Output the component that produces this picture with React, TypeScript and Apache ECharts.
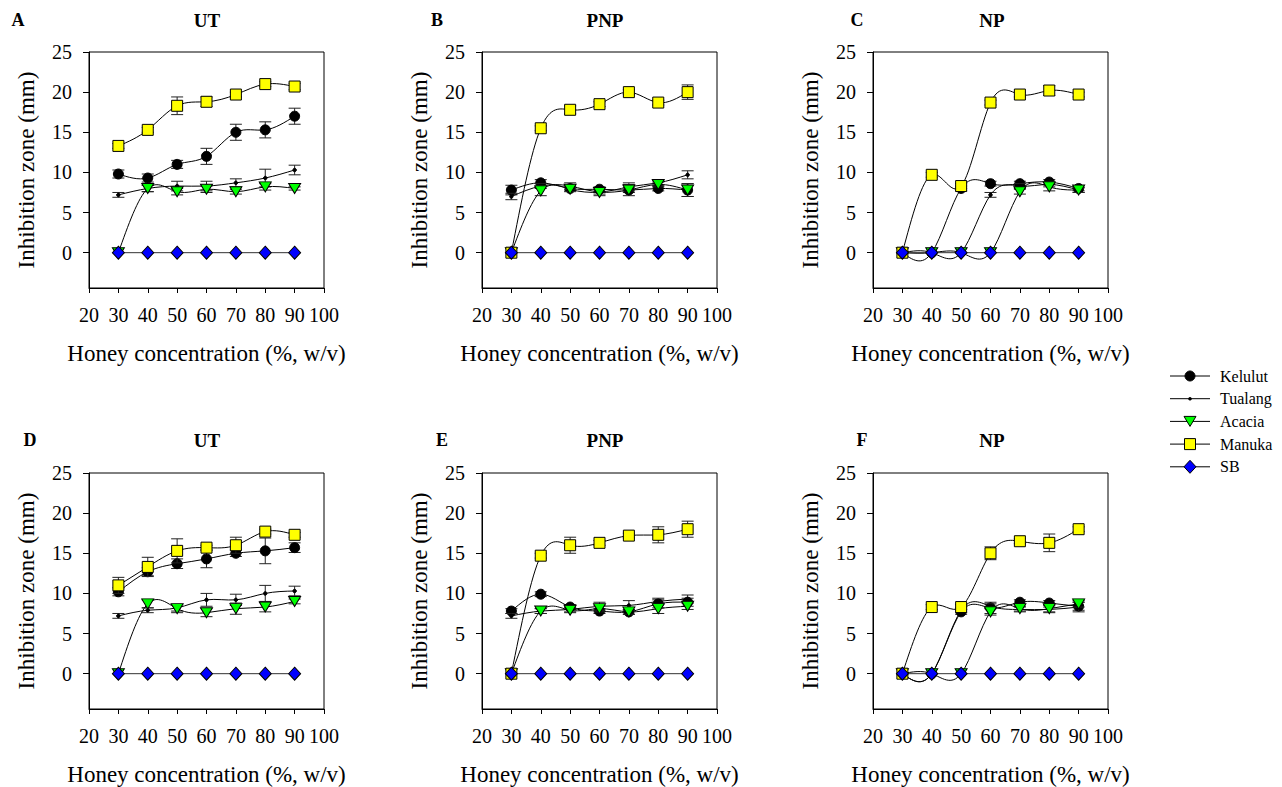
import React, { useEffect, useRef } from 'react';
import * as echarts from 'echarts';

// ---------- data ----------
const concentrations = [30, 40, 50, 60, 70, 80, 90];
const yTicks = [0, 5, 10, 15, 20, 25];
const honeyNames = ['Kelulut', 'Tualang', 'Acacia', 'Manuka', 'SB'];
const panelLetters = ['A', 'B', 'C', 'D', 'E', 'F'];
const panelTitles = ['UT', 'PNP', 'NP', 'UT', 'PNP', 'NP'];

// Panel A (UT)
const A_kelulut = [9.8, 9.3, 11.0, 12.0, 15.0, 15.3, 17.0];
const A_kelulutErr = [0.5, 0.5, 0.5, 1.0, 1.0, 1.0, 1.0];
const A_tualang = [7.2, 8.0, 8.3, 8.3, 8.7, 9.3, 10.3];
const A_tualangErr = [0.3, 0.4, 0.6, 0.6, 0.5, 1.1, 0.6];
const A_acacia = [0, 8.0, 7.6, 7.9, 7.6, 8.2, 8.0];
const A_acaciaErr = [0, 0.4, 0.4, 0.4, 0.3, 0.4, 0.2];
const A_manuka = [13.3, 15.3, 18.3, 18.8, 19.7, 21.0, 20.7];
const A_manukaErr = [0.3, 0.3, 1.1, 0.6, 0.3, 0.3, 0.4];
const A_sb = [0, 0, 0, 0, 0, 0, 0];

// Panel B (PNP)
const B_kelulut = [7.8, 8.7, 8.0, 7.9, 7.8, 8.0, 7.8];
const B_kelulutErr = [0.6, 0.4, 0.3, 0.3, 0.3, 0.3, 0.8];
const B_tualang = [7.0, 8.3, 8.3, 7.6, 8.2, 8.7, 9.7];
const B_tualangErr = [0.4, 0.3, 0.4, 0.3, 0.5, 0.3, 0.5];
const B_acacia = [0, 7.7, 7.9, 7.5, 7.8, 8.5, 7.8];
const B_acaciaErr = [0, 0.6, 0.3, 0.4, 0.7, 0.3, 0.8];
const B_manuka = [0, 15.5, 17.8, 18.5, 20.0, 18.7, 20.0];
const B_manukaErr = [0, 0.3, 0.5, 0.3, 0.3, 0.3, 0.9];
const B_sb = [0, 0, 0, 0, 0, 0, 0];

// Panel C (NP)
const C_kelulut = [0, 0, 8.0, 8.6, 8.6, 8.8, 8.0];
const C_kelulutErr = [0, 0, 0.3, 0.3, 0.3, 0.3, 0.3];
const C_tualang = [0, 0, 0, 7.2, 8.3, 8.5, 7.8];
const C_tualangErr = [0, 0, 0, 0.3, 0.3, 0.3, 0.3];
const C_acacia = [0, 0, 0, 0, 7.6, 8.2, 7.8];
const C_acaciaErr = [0, 0, 0, 0, 0.3, 0.5, 0.3];
const C_manuka = [0, 9.7, 8.3, 18.7, 19.7, 20.2, 19.7];
const C_manukaErr = [0, 0.3, 0.3, 0.3, 0.3, 0.6, 0.3];
const C_sb = [0, 0, 0, 0, 0, 0, 0];

// Panel D (UT)
const D_kelulut = [10.2, 12.7, 13.7, 14.3, 15.0, 15.3, 15.7];
const D_kelulutErr = [0.5, 0.5, 0.6, 1.1, 0.4, 1.6, 0.6];
const D_tualang = [7.2, 7.9, 8.2, 9.2, 9.2, 10.0, 10.3];
const D_tualangErr = [0.3, 0.3, 0.4, 0.8, 0.7, 1.0, 0.6];
const D_acacia = [0, 8.7, 8.1, 7.6, 8.1, 8.3, 9.0];
const D_acaciaErr = [0, 0.5, 0.5, 0.5, 0.7, 0.6, 0.3];
const D_manuka = [11.0, 13.3, 15.3, 15.7, 16.0, 17.7, 17.3];
const D_manukaErr = [1.0, 1.2, 1.5, 0.3, 1.0, 0.3, 0.3];
const D_sb = [0, 0, 0, 0, 0, 0, 0];

// Panel E (PNP)
const E_kelulut = [7.8, 9.9, 8.3, 7.8, 7.7, 8.7, 8.9];
const E_kelulutErr = [0.3, 0.3, 0.3, 0.3, 0.3, 0.5, 0.5];
const E_tualang = [7.2, 7.8, 8.0, 8.4, 8.5, 9.0, 9.3];
const E_tualangErr = [0.3, 0.3, 0.3, 0.5, 0.6, 0.4, 0.5];
const E_acacia = [0, 7.8, 7.9, 8.1, 7.7, 8.1, 8.4];
const E_acaciaErr = [0, 0.3, 0.3, 0.4, 0.3, 0.6, 0.4];
const E_manuka = [0, 14.7, 16.0, 16.3, 17.2, 17.3, 18.0];
const E_manukaErr = [0, 0.3, 1.0, 0.3, 0.3, 1.0, 1.0];
const E_sb = [0, 0, 0, 0, 0, 0, 0];

// Panel F (NP)
const F_kelulut = [0, 0, 7.7, 8.2, 8.9, 8.8, 8.4];
const F_kelulutErr = [0, 0, 0.3, 0.7, 0.3, 0.3, 0.5];
const F_tualang = [0, 0, 7.9, 8.4, 8.0, 8.0, 8.3];
const F_tualangErr = [0, 0, 0.3, 0.3, 0.3, 0.3, 0.6];
const F_acacia = [0, 0, 0, 7.7, 8.1, 8.1, 8.7];
const F_acaciaErr = [0, 0, 0, 0.4, 0.3, 0.5, 0.4];
const F_manuka = [0, 8.3, 8.3, 15.0, 16.5, 16.3, 18.0];
const F_manukaErr = [0, 0.3, 0.3, 0.8, 0.3, 1.1, 0.3];
const F_sb = [0, 0, 0, 0, 0, 0, 0];

const panelValues = [
  [A_kelulut, A_tualang, A_acacia, A_manuka, A_sb],
  [B_kelulut, B_tualang, B_acacia, B_manuka, B_sb],
  [C_kelulut, C_tualang, C_acacia, C_manuka, C_sb],
  [D_kelulut, D_tualang, D_acacia, D_manuka, D_sb],
  [E_kelulut, E_tualang, E_acacia, E_manuka, E_sb],
  [F_kelulut, F_tualang, F_acacia, F_manuka, F_sb],
];
const panelErrors = [
  [A_kelulutErr, A_tualangErr, A_acaciaErr, A_manukaErr, null],
  [B_kelulutErr, B_tualangErr, B_acaciaErr, B_manukaErr, null],
  [C_kelulutErr, C_tualangErr, C_acaciaErr, C_manukaErr, null],
  [D_kelulutErr, D_tualangErr, D_acaciaErr, D_manukaErr, null],
  [E_kelulutErr, E_tualangErr, E_acaciaErr, E_manukaErr, null],
  [F_kelulutErr, F_tualangErr, F_acaciaErr, F_manukaErr, null],
];

// ---------- styles / layout ----------
const SERIF = 'Liberation Serif';
const gridLefts = [89, 482, 873];
const gridTops = [52, 473];
const gridW = 235;
const gridH = 236;

const seriesStyle: any[] = [
  { symbol: 'circle', symbolSize: 10, color: '#000000', symbolRotate: 0 },
  { symbol: 'circle', symbolSize: 3.5, color: '#000000', symbolRotate: 0 },
  { symbol: 'triangle', symbolSize: [12, 10], color: '#00ff00', symbolRotate: 180 },
  { symbol: 'rect', symbolSize: 11, color: '#ffff00', symbolRotate: 0 },
  { symbol: 'diamond', symbolSize: [12, 13], color: '#0000ff', symbolRotate: 0 },
];

// Tangents of a natural cubic spline through the points (used only to shape
// the connecting curves, the way the original plotting software does).
function splineTangents(xs: number[], ys: number[]): number[] {
  const n = ys.length;
  const h = xs[1] - xs[0];
  const m = n - 2;
  const cp: number[] = [];
  const dp: number[] = [];
  for (let i = 0; i < m; i++) {
    const r = (6 * (ys[i + 2] - 2 * ys[i + 1] + ys[i])) / (h * h);
    if (i === 0) {
      cp[0] = 1 / 4;
      dp[0] = r / 4;
    } else {
      const den = 4 - cp[i - 1];
      cp[i] = 1 / den;
      dp[i] = (r - dp[i - 1]) / den;
    }
  }
  const inner: number[] = new Array(m).fill(0);
  if (m > 0) {
    inner[m - 1] = dp[m - 1];
    for (let i = m - 2; i >= 0; i--) inner[i] = dp[i] - cp[i] * inner[i + 1];
  }
  const M = [0, ...inner, 0];
  const d: number[] = [];
  for (let i = 0; i < n - 1; i++) {
    d.push((ys[i + 1] - ys[i]) / h - (h * (2 * M[i] + M[i + 1])) / 6);
  }
  d.push((ys[n - 1] - ys[n - 2]) / h + (h * (M[n - 2] + 2 * M[n - 1])) / 6);
  return d;
}

function curveRenderer(stroke: string) {
  return (params: any, api: any) => {
    const x0 = api.value(0);
    const y0 = api.value(1);
    const x1 = api.value(2);
    const y1 = api.value(3);
    const d0 = api.value(4);
    const d1 = api.value(5);
    const h = x1 - x0;
    const p0 = api.coord([x0, y0]);
    const p3 = api.coord([x1, y1]);
    const c1 = api.coord([x0 + h / 3, y0 + (d0 * h) / 3]);
    const c2 = api.coord([x1 - h / 3, y1 - (d1 * h) / 3]);
    return {
      type: 'bezierCurve',
      shape: { x1: p0[0], y1: p0[1], x2: p3[0], y2: p3[1], cpx1: c1[0], cpy1: c1[1], cpx2: c2[0], cpy2: c2[1] },
      style: { stroke, lineWidth: 1, fill: null },
    };
  };
}

function errorRenderer(params: any, api: any) {
  const x = api.value(0);
  const lo = api.value(1);
  const hi = api.value(2);
  const pt = api.coord([x, hi]);
  const pb = api.coord([x, lo]);
  const w = 6;
  const style = { stroke: '#222', lineWidth: 1 };
  return {
    type: 'group',
    children: [
      { type: 'line', shape: { x1: pt[0], y1: pt[1], x2: pb[0], y2: pb[1] }, style },
      { type: 'line', shape: { x1: pt[0] - w, y1: pt[1], x2: pt[0] + w, y2: pt[1] }, style },
      { type: 'line', shape: { x1: pb[0] - w, y1: pb[1], x2: pb[0] + w, y2: pb[1] }, style },
    ],
  };
}

function buildOption() {
  const grids: any[] = [];
  const xAxes: any[] = [];
  const yAxes: any[] = [];
  const series: any[] = [];
  const graphics: any[] = [];

  for (let p = 0; p < 6; p++) {
    const row = Math.floor(p / 3);
    const col = p % 3;
    grids.push({
      left: gridLefts[col], top: gridTops[row], width: gridW, height: gridH,
      show: true, borderColor: '#000', borderWidth: 1, backgroundColor: 'transparent',
    });
    xAxes.push({
      type: 'value', gridIndex: p, min: 20, max: 100, interval: 10,
      axisLine: { show: true, onZero: false, lineStyle: { color: '#000', width: 1 } },
      axisTick: { show: true, inside: false, length: 5, lineStyle: { color: '#000', width: 1 } },
      axisLabel: { show: true, fontSize: 20, fontFamily: SERIF, color: '#000', margin: 17 },
      splitLine: { show: false },
      name: 'Honey concentration (%, w/v)', nameLocation: 'middle', nameGap: 54,
      nameTextStyle: { fontSize: 23, fontFamily: SERIF, color: '#000' },
    });
    yAxes.push({
      type: 'value', gridIndex: p, min: -4.4, max: 25,
      axisLine: { show: true, onZero: false, lineStyle: { color: '#000', width: 1 } },
      axisTick: { show: true, inside: false, length: 6, customValues: yTicks, lineStyle: { color: '#000', width: 1 } },
      axisLabel: { show: true, customValues: yTicks, fontSize: 20, fontFamily: SERIF, color: '#000', margin: 17 },
      splitLine: { show: false },
      name: 'Inhibition zone (mm)', nameLocation: 'middle', nameGap: 51,
      nameTextStyle: { fontSize: 23, fontFamily: SERIF, color: '#000' },
    });

    for (let s = 0; s < honeyNames.length; s++) {
      const vals = panelValues[p][s];
      const errs = panelErrors[p][s];
      const st = seriesStyle[s];
      const zBase = 2 + s * 3;
      if (errs) {
        series.push({
          type: 'custom', name: honeyNames[s] + ' error', xAxisIndex: p, yAxisIndex: p,
          z: zBase,
          encode: { x: 0, y: [1, 2] },
          data: concentrations
            .map((x, i) => [x, vals[i] - errs[i], vals[i] + errs[i], errs[i]])
            .filter((d) => d[3] > 0),
          renderItem: errorRenderer,
          silent: true,
          clip: false,
        });
      }
      const tangents = splineTangents(concentrations, vals);
      const segments = concentrations.slice(0, -1).map((x, i) => [
        x, vals[i], concentrations[i + 1], vals[i + 1], tangents[i], tangents[i + 1],
      ]);
      series.push({
        type: 'custom', name: honeyNames[s] + ' curve', xAxisIndex: p, yAxisIndex: p,
        z: zBase + 1,
        encode: { x: [0, 2], y: [1, 3] },
        data: segments,
        renderItem: curveRenderer(s === 4 ? '#333' : '#000'),
        silent: true,
        clip: false,
      });
      series.push({
        type: 'line', name: honeyNames[s], xAxisIndex: p, yAxisIndex: p,
        z: zBase + 2,
        data: concentrations.map((x, i) => [x, vals[i]]),
        symbol: st.symbol, symbolSize: st.symbolSize, symbolRotate: st.symbolRotate,
        showSymbol: true, showAllSymbol: true,
        lineStyle: { width: 0, opacity: 0 },
        itemStyle: { color: st.color, borderColor: '#000', borderWidth: 1 },
        emphasis: { disabled: true },
        clip: false,
      });
    }

    // panel letter and title
    const letterX = [18, 437, 857, 30, 442, 862][p];
    const titleX = [207, 605, 992, 207, 605, 992][p];
    const titleY = row === 0 ? 20 : 440;
    graphics.push({
      type: 'text', x: letterX, y: titleY,
      style: { text: panelLetters[p], font: 'bold 18px Liberation Serif', fill: '#000', align: 'center', verticalAlign: 'middle' },
    });
    graphics.push({
      type: 'text', x: titleX, y: titleY,
      style: { text: panelTitles[p], font: 'bold 19px Liberation Serif', fill: '#000', align: 'center', verticalAlign: 'middle' },
    });
  }

  // legend (drawn manually)
  const legX0 = 1170;
  const legX1 = 1210;
  const legY0 = 376;
  const legDy = 22.7;
  honeyNames.forEach((name, i) => {
    const y = legY0 + i * legDy;
    const cx = (legX0 + legX1) / 2;
    graphics.push({ type: 'line', shape: { x1: legX0, y1: y, x2: legX1, y2: y }, style: { stroke: '#000', lineWidth: 1 } });
    let shape: any;
    if (i === 0) shape = { type: 'circle', shape: { cx, cy: y, r: 5 }, style: { fill: '#000', stroke: '#000' } };
    else if (i === 1) shape = { type: 'circle', shape: { cx, cy: y, r: 1.8 }, style: { fill: '#000' } };
    else if (i === 2) shape = { type: 'polygon', shape: { points: [[cx - 6, y - 5], [cx + 6, y - 5], [cx, y + 5]] }, style: { fill: '#00ff00', stroke: '#000', lineWidth: 1 } };
    else if (i === 3) shape = { type: 'rect', shape: { x: cx - 5.5, y: y - 5.5, width: 11, height: 11 }, style: { fill: '#ffff00', stroke: '#000', lineWidth: 1 } };
    else shape = { type: 'polygon', shape: { points: [[cx, y - 6.5], [cx + 6, y], [cx, y + 6.5], [cx - 6, y]] }, style: { fill: '#0000ff', stroke: '#000', lineWidth: 1 } };
    graphics.push(shape);
    graphics.push({
      type: 'text', x: 1220, y,
      style: { text: name, font: '16px Liberation Serif', fill: '#000', align: 'left', verticalAlign: 'middle' },
    });
  });

  return {
    animation: false,
    backgroundColor: '#ffffff',
    grid: grids,
    xAxis: xAxes,
    yAxis: yAxes,
    series,
    graphic: graphics,
  };
}

export default function App() {
  const ref = useRef<HTMLDivElement>(null);
  useEffect(() => {
    if (!ref.current) return;
    const chart = echarts.init(ref.current, undefined, { renderer: 'svg' });
    chart.setOption(buildOption() as any);
    return () => chart.dispose();
  }, []);
  return (
    <div
      ref={ref}
      style={{ position: 'fixed', left: 0, top: 0, width: 1282, height: 787, background: '#fff' }}
    />
  );
}
